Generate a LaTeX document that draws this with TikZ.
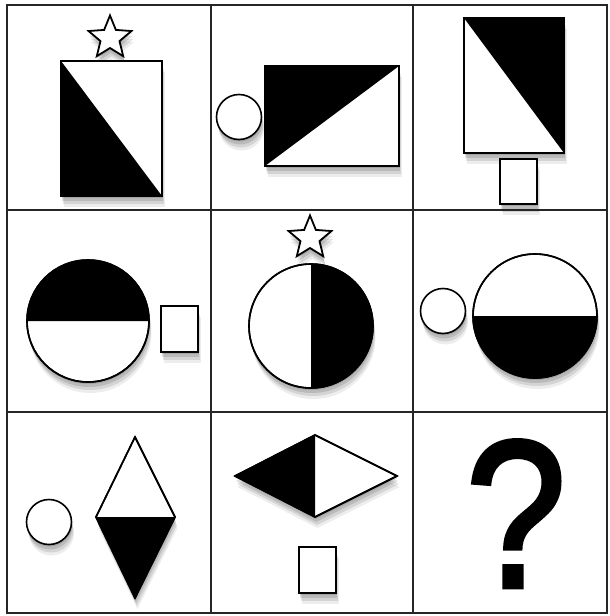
\documentclass[tikz,border=0pt]{standalone}
\usepackage{fontspec}
\newfontfamily\qfont[FakeBold=2.2]{Liberation Sans}
\usetikzlibrary{shapes.geometric}
\tikzset{
  grid line/.style={line width=2pt, draw=black!85},
  fig line/.style={line width=1.6pt, draw=black},
  soft shadow/.style={
    preaction={fill=black, opacity=0.12, transform canvas={xshift=0.5pt, yshift=-2pt}},
    preaction={fill=black, opacity=0.12, transform canvas={xshift=1pt, yshift=-5pt}},
    preaction={fill=black, opacity=0.10, transform canvas={xshift=2pt, yshift=-8pt}},
    preaction={fill=black, opacity=0.07, transform canvas={xshift=2.5pt, yshift=-11pt}},
  },
  star mark/.style={
    star, star points=5, star point ratio=2.25,
    minimum size=45pt, inner sep=0pt,
    fig line, line width=1.8pt, fill=white, soft shadow,
  },
  small disc/.style={circle, minimum size=45pt, inner sep=0pt, fig line, fill=white, soft shadow},
  small box/.style={fig line, fill=white, soft shadow},
}

\begin{document}
\begin{tikzpicture}[x=1pt, y=-1pt]
  \useasboundingbox[fill=white] (0,0) rectangle (610,616);

  % row 1
  \node[star mark] (star1) at (110,38) {};
  \draw[fig line, fill=white, soft shadow] (61,61) rectangle (162,196);
  \fill (61,61) -- (61,196) -- (162,196) -- cycle;
  \draw[fig line] (61,61) rectangle (162,196);

  \node[small disc] (disc1) at (239,117) {};
  \draw[fig line, fill=white, soft shadow] (265,66) rectangle (399,166);
  \fill (265,66) -- (399,66) -- (265,166) -- cycle;
  \draw[fig line] (265,66) rectangle (399,166);

  \draw[fig line, fill=white, soft shadow] (464,18) rectangle (564,153);
  \fill (464,18) -- (564,18) -- (564,153) -- cycle;
  \draw[fig line] (464,18) rectangle (564,153);
  \draw[small box] (500,159) rectangle (537,204);

  % row 2
  \draw[fig line, fill=white, soft shadow] (88,321) circle (61);
  \fill (27,321) arc[start angle=180, end angle=360, radius=61] -- cycle;
  \draw[fig line] (88,321) circle (61);
  \draw[small box] (161,306) rectangle (198,352);

  \node[star mark] (star2) at (310,238) {};
  \draw[fig line, fill=white, soft shadow] (311,326) circle (62);
  \fill (311,264) arc[start angle=270, end angle=450, radius=62] -- cycle;
  \draw[fig line] (311,326) circle (62);

  \node[small disc] (disc2) at (443,311) {};
  \draw[fig line, fill=white, soft shadow] (535,316) circle (62);
  \fill (597,316) arc[start angle=0, end angle=180, radius=62] -- cycle;
  \draw[fig line] (535,316) circle (62);

  % row 3
  \node[small disc] (disc3) at (49,522) {};
  \draw[fig line, fill=white, soft shadow] (135,437) -- (175,517) -- (135,598) -- (96,517) -- cycle;
  \fill (96,517) -- (175,517) -- (135,598) -- cycle;
  \draw[fig line, line join=round] (135,437) -- (175,517) -- (135,598) -- (96,517) -- cycle;

  \draw[fig line, fill=white, soft shadow] (235,476) -- (315,435) -- (397,476) -- (315,517) -- cycle;
  \fill (235,476) -- (315,435) -- (315,517) -- cycle;
  \draw[fig line, line join=round] (235,476) -- (315,435) -- (397,476) -- (315,517) -- cycle;
  \draw[small box] (299,547) rectangle (336,593);

  \node[anchor=base, inner sep=0pt, xscale=0.86,
    font=\qfont\fontsize{210}{210}\selectfont] (qmark) at (516,587) {?};

  % grid
  \draw[grid line] (7,5) rectangle (607,613);
  \foreach \gx in {211,413} \draw[grid line] (\gx,5) -- (\gx,613);
  \foreach \gy in {210,412} \draw[grid line] (7,\gy) -- (607,\gy);
\end{tikzpicture}
\end{document}
